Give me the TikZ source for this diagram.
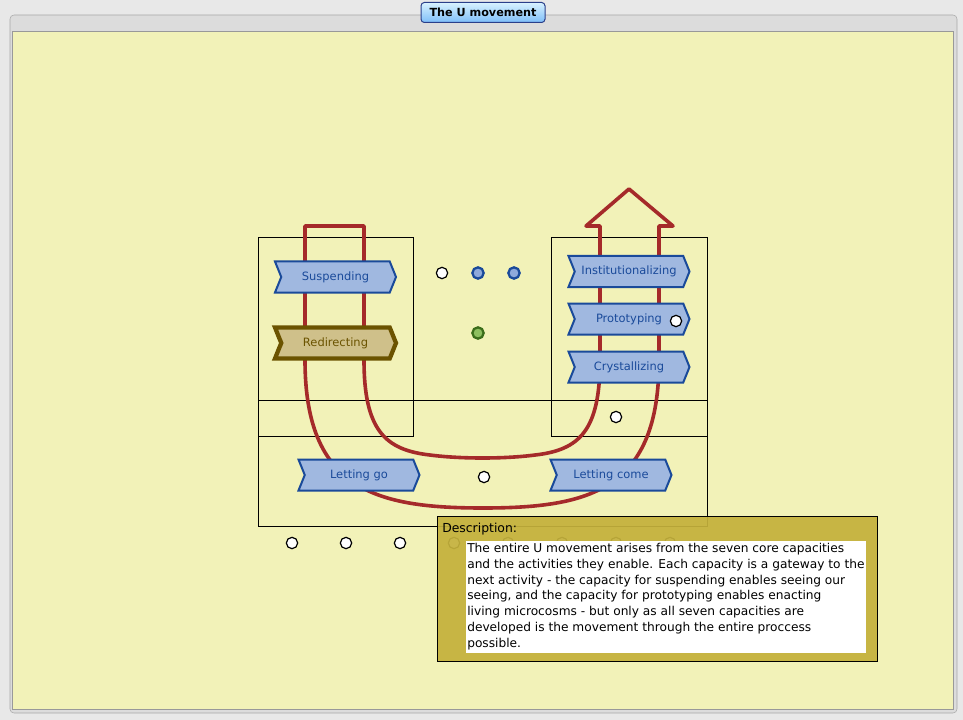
\documentclass[tikz,border=0pt]{standalone}
\usepackage{fontspec}
\setmainfont{DejaVu Sans}
\usetikzlibrary{shapes.symbols}
\definecolor{bgray}{HTML}{E8E8E8}
\definecolor{fgray}{HTML}{DCDCDC}
\definecolor{fline}{HTML}{A8A8A8}
\definecolor{canvas}{HTML}{F2F2B8}
\definecolor{ured}{HTML}{A52A2A}
\definecolor{sigfill}{HTML}{A0B8E0}
\definecolor{sigline}{HTML}{1A4A9A}
\definecolor{tanfill}{HTML}{CFC08A}
\definecolor{tanline}{HTML}{6B5300}
\definecolor{bluedot}{HTML}{8EA9DB}
\definecolor{greendot}{HTML}{8DBF5F}
\definecolor{greenline}{HTML}{3B6E1A}
\definecolor{descfill}{HTML}{C4B13C}
\definecolor{btntop}{HTML}{D8F2FF}
\definecolor{btnbot}{HTML}{7EBEF8}
\definecolor{btnline}{HTML}{2A3F8A}
\tikzset{
  sig/.style={shape=signal, signal from=west, signal to=east, signal pointer angle=136,
    minimum width=90.75pt, minimum height=23.25pt, inner sep=0pt, draw=sigline, fill=sigfill,
    line width=1.5pt, text=sigline, font=\fontsize{8.6pt}{10pt}\selectfont},
  sigtan/.style={sig, draw=tanline, fill=tanfill, text=tanline, line width=3.2pt},
  dotw/.style={circle, draw=black, fill=white, line width=0.9pt, minimum size=8.5pt, inner sep=0pt},
  dotb/.style={dotw, draw=sigline, fill=bluedot, line width=1.7pt},
  dotg/.style={dotw, draw=greenline, fill=greendot, line width=1.7pt},
  areabox/.style={draw=black, line width=0.75pt},
  upath/.style={draw=ured, line width=2.7pt, line join=round}
}
\begin{document}
\begin{tikzpicture}[x=0.75pt,y=-0.75pt]
\useasboundingbox (0,0) rectangle (963,720);
\fill[bgray] (0,0) rectangle (963,720);
% panel frame
\draw[fline, fill=fgray, rounded corners=3pt] (10,15) rectangle (957,713);
\draw[fill=canvas, draw=gray!80] (12,31) rectangle (953,709);
% title button
\node[draw=btnline, line width=0.75pt, rounded corners=2.5pt, top color=btntop, bottom color=btnbot,
  minimum width=93pt, minimum height=15pt, inner sep=0pt, font=\bfseries\fontsize{8.4pt}{10pt}\selectfont]
  (title) at (483,12.5) {The U movement};
% area boxes
\draw[areabox] (258,238) rectangle (413,436);
\draw[areabox] (551,238) rectangle (707,436);
\draw[areabox] (258,400) rectangle (707,526);
% U movement path
\draw[upath] (305,360) -- (305,226) -- (364,226) -- (364,360)
  .. controls (364,430) and (385,450) .. (430,455)
  .. controls (460,459) and (505,459) .. (535,455)
  .. controls (580,450) and (600,430) .. (600,360)
  -- (600,226) -- (586,226) -- (629,189) -- (673,226) -- (659,226) -- (659,360)
  .. controls (659,490) and (590,508) .. (483,508)
  .. controls (376,508) and (305,490) .. (305,360) -- cycle;
% activity nodes
\node[sig] (susp) at (335.5,277) {Suspending};
\node[sigtan] (redir) at (335.5,343) {Redirecting};
\node[sig] (inst) at (629,271.5) {Institutionalizing};
\node[sig] (proto) at (629,319) {Prototyping};
\node[sig] (cryst) at (629,367) {Crystallizing};
\node[sig] (lgo) at (359,475) {Letting go};
\node[sig] (lcome) at (611,475) {Letting come};
% small markers
\node[dotw] (w1) at (442,273) {};
\node[dotb] (b1) at (478,273) {};
\node[dotb] (b2) at (514,273) {};
\node[dotg] (g1) at (478,333) {};
\node[dotw] (w2) at (676,321) {};
\node[dotw] (w3) at (616,417) {};
\node[dotw] (w4) at (484,477) {};
\node[dotw] (w5) at (292,543) {};
\node[dotw] (w6) at (346,543) {};
\node[dotw] (w7) at (400,543) {};
\node[dotw] (w8) at (454,543) {};
\node[dotw] (w9) at (508,543) {};
\node[dotw] (w10) at (562,543) {};
\node[dotw] (w11) at (616,543) {};
\node[dotw] (w12) at (670,543) {};
% description
\fill[descfill, opacity=0.93] (437,516) rectangle (877,661);
\draw[black, line width=0.75pt] (437,516) rectangle (877,661);
\node[anchor=west, inner sep=0pt, font=\fontsize{9.3pt}{11pt}\selectfont] (dlabel) at (442,529) {Description:};
\fill[white] (466,541) rectangle (866,653);
\node[anchor=north west, inner sep=0pt, align=left, font=\fontsize{9.15pt}{11.85pt}\selectfont] (dtext) at (467,543) {%
The entire U movement arises from the seven core capacities\\
and the activities they enable. Each capacity is a gateway to the\\
next activity - the capacity for suspending enables seeing our\\
seeing, and the capacity for prototyping enables enacting\\
living microcosms - but only as all seven capacities are\\
developed is the movement through the entire proccess\\
possible.};
\end{tikzpicture}
\end{document}
